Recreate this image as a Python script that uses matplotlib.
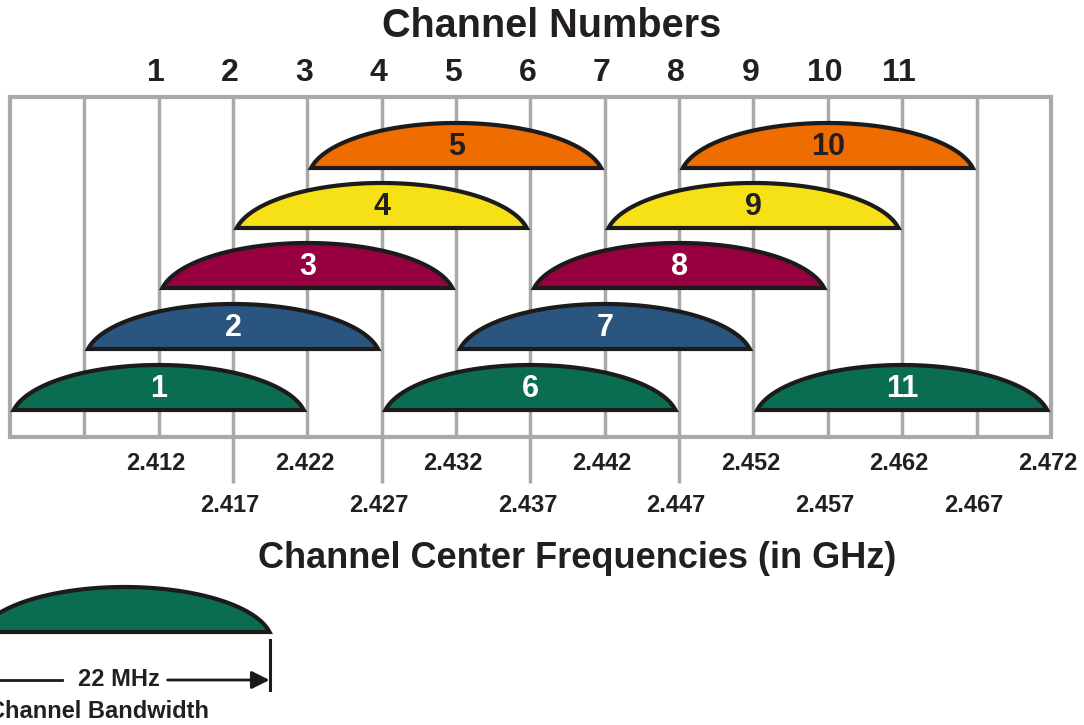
import numpy as np
import matplotlib.pyplot as plt
from matplotlib.patches import Rectangle, Polygon

plt.rcParams['font.family'] = ['Liberation Sans', 'DejaVu Sans']
plt.rcParams['font.weight'] = 'bold'

# channel data
channels = [1, 2, 3, 4, 5, 6, 7, 8, 9, 10, 11]
center_ghz = [2.412, 2.417, 2.422, 2.427, 2.432, 2.437, 2.442, 2.447, 2.452, 2.457, 2.462]
row = [0, 1, 2, 3, 4, 0, 1, 2, 3, 4, 0]
grid_ghz = [2.407, 2.412, 2.417, 2.422, 2.427, 2.432, 2.437, 2.442, 2.447, 2.452, 2.457, 2.462, 2.467]
freq_labels = ['2.412', '2.417', '2.422', '2.427', '2.432', '2.437', '2.442', '2.447',
               '2.452', '2.457', '2.462', '2.467', '2.472']
freq_label_pos = [2.412, 2.417, 2.422, 2.427, 2.432, 2.437, 2.442, 2.447,
                  2.452, 2.457, 2.462, 2.467, 2.472]
half_width = 0.00975   # visual half-width of a channel bump (GHz)
bandwidth_label = '22 MHz'

row_colors = ['#0a6d51', '#29557f', '#960040', '#f6e117', '#ef6c00']
row_text = ['white', 'white', 'white', '#231f20', '#231f20']
row_base = [410, 349, 288, 228, 168]
bump_h = 45

fig = plt.figure(figsize=(10.84, 7.25), dpi=100)
ax = fig.add_axes([0, 0, 1, 1])
ax.set_xlim(2.401328, 2.474226)
ax.set_ylim(725, 0)
ax.axis('off')

grid_c = '#a9a9a9'
box_top, box_bot = 97, 437

# grid lines and box
for i, g in enumerate(grid_ghz):
    lower = (i % 2 == 0) and 2.415 < g < 2.450
    ax.plot([g, g], [box_top, 483 if lower else box_bot], color=grid_c, lw=2.5, zorder=1,
            solid_capstyle='butt')
ax.add_patch(Rectangle((2.402, box_top), 0.070, box_bot - box_top, fill=False,
                       ec=grid_c, lw=3, zorder=1))


def bump(xc, base, color, k=1.018):
    t = np.linspace(-1, 1, 300)
    e0 = np.sqrt(1 - (1 / k) ** 2)
    prof = (np.sqrt(1 - (t / k) ** 2) - e0) / (1 - e0)
    xs = xc + t * half_width
    ys = base - prof * bump_h
    p = Polygon(np.column_stack([xs, ys]), closed=True, fc=color, ec='#1c1a1a',
                lw=3, joinstyle='miter', zorder=3)
    ax.add_patch(p)


for ch, c, r in zip(channels, center_ghz, row):
    bump(c, row_base[r], row_colors[r])
    ax.text(c, row_base[r] - 21, str(ch), ha='center', va='center', fontsize=22,
            color=row_text[r], zorder=4)
    # channel numbers at top
    ax.text(c - 0.0002, 73, str(ch), ha='center', va='center', fontsize=23, color='#231f20')

# frequency labels, alternating rows
for i, (lab, f) in enumerate(zip(freq_labels, freq_label_pos)):
    y = 463 if i % 2 == 0 else 505
    ax.text(f - 0.0002, y, lab, ha='center', va='center', fontsize=17, color='#231f20')

ax.text(2.43845, 26, 'Channel Numbers', ha='center', va='center', fontsize=28.5,
        color='#231f20')
ax.text(2.44013, 558, 'Channel Center Frequencies (in GHz)', ha='center', va='center',
        fontsize=26, color='#231f20')

# bandwidth legend
leg_c = 2.4097
bump(leg_c, 632, row_colors[0])
right = leg_c + half_width
ax.plot([right + 0.00005, right + 0.00005], [640, 690], color='#1c1a1a', lw=2.2)
ax.plot([2.40, 2.4055], [680, 680], color='#1c1a1a', lw=2)
ax.annotate('', xy=(right, 680), xytext=(2.4126, 680),
            arrowprops=dict(arrowstyle='-|>', color='#1c1a1a', lw=2,
                            mutation_scale=27, shrinkA=0, shrinkB=0))
ax.text(2.4093, 680, bandwidth_label, ha='center', va='center', fontsize=17,
        color='#231f20')
ax.text(2.41535, 711, 'Channel Bandwidth', ha='right', va='center', fontsize=17,
        color='#231f20')

fig.savefig('out.png', dpi=100)
